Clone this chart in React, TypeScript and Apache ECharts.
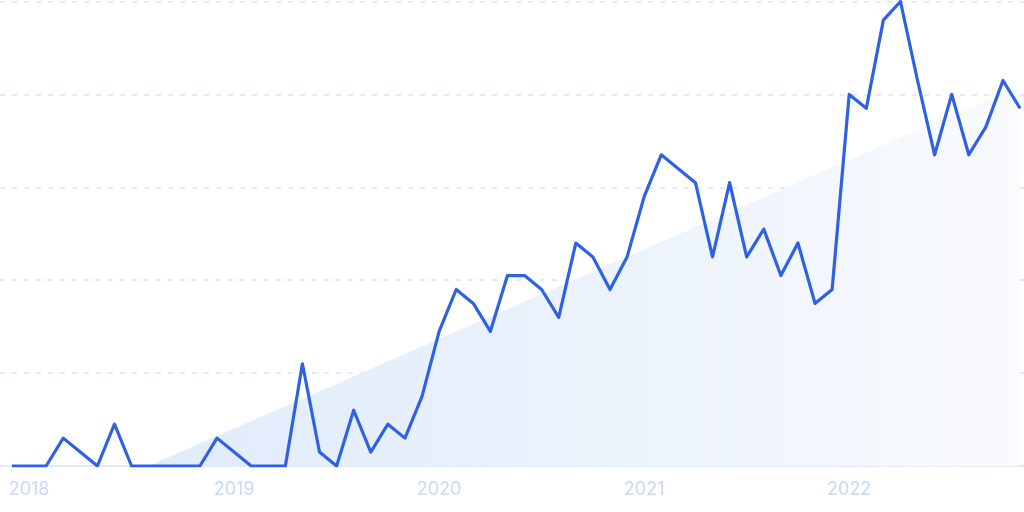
import React, { useEffect, useRef } from "react";
import * as echarts from "echarts";

const months: string[] = [
  "2017-12",
  "2018-01", "2018-02", "2018-03", "2018-04", "2018-05", "2018-06", "2018-07", "2018-08", "2018-09", "2018-10", "2018-11", "2018-12",
  "2019-01", "2019-02", "2019-03", "2019-04", "2019-05", "2019-06", "2019-07", "2019-08", "2019-09", "2019-10", "2019-11", "2019-12",
  "2020-01", "2020-02", "2020-03", "2020-04", "2020-05", "2020-06", "2020-07", "2020-08", "2020-09", "2020-10", "2020-11", "2020-12",
  "2021-01", "2021-02", "2021-03", "2021-04", "2021-05", "2021-06", "2021-07", "2021-08", "2021-09", "2021-10", "2021-11", "2021-12",
  "2022-01", "2022-02", "2022-03", "2022-04", "2022-05", "2022-06", "2022-07", "2022-08", "2022-09", "2022-10", "2022-11",
];

const interest: number[] = [
  0,
  0, 0, 6, 3, 0, 9, 0, 0, 0, 0, 0, 6,
  3, 0, 0, 0, 22, 3, 0, 12, 3, 9, 6, 15,
  29, 38, 35, 29, 41, 41, 38, 32, 48, 45, 38, 45,
  58, 67, 64, 61, 45, 61, 45, 51, 41, 48, 35, 38,
  80, 77, 96, 100, 83, 67, 80, 67, 73, 83, 77,
];

// trend line endpoints: [month index, value]
const trendStart: [number, number] = [8, 0];
const trendEnd: [number, number] = [59, 82];

const yearLabelIndices: number[] = [1, 13, 25, 37, 49];

export default function App() {
  const ref = useRef<HTMLDivElement>(null);

  useEffect(() => {
    if (!ref.current) return;
    const chart = echarts.init(ref.current, null, { renderer: "svg" });
    const lineData = interest.map((v, i) => [i, v]);
    chart.setOption({
      animation: false,
      grid: { left: 0, right: 0, top: 1.5, bottom: 46 },
      xAxis: {
        type: "value",
        min: -0.7,
        max: 59.23,
        axisLine: { show: true, lineStyle: { color: "#dde6f8", width: 1.5 } },
        axisTick: { show: false },
        splitLine: { show: false },
        axisLabel: {
          customValues: yearLabelIndices,
          formatter: (v: number) => (months[Math.round(v)] || "").slice(0, 4),
          color: "#cbd7f3",
          fontSize: 18,
          fontFamily: "Inter, 'Noto Sans', sans-serif",
          margin: 13,
        },
      },
      yAxis: {
        type: "value",
        min: 0,
        max: 100,
        interval: 20,
        axisLine: { show: false },
        axisTick: { show: false },
        axisLabel: { show: false },
        splitLine: {
          show: true,
          lineStyle: { color: "#d6e4fb", type: [5, 7], width: 1.5 },
        },
      },
      series: [
        {
          type: "line",
          data: [trendStart, trendEnd],
          symbol: "none",
          lineStyle: { width: 0 },
          z: 1,
          areaStyle: {
            color: new echarts.graphic.LinearGradient(0, 0, 1, 0, [
              { offset: 0, color: "#e0ebfb" },
              { offset: 0.5, color: "#ebf2fc" },
              { offset: 1, color: "#f9fbfe" },
            ]),
            opacity: 1,
          },
          silent: true,
        },
        {
          type: "line",
          data: lineData,
          symbol: "none",
          z: 3,
          lineStyle: { color: "#2f62e2", width: 3.2, join: "round" },
        },
      ],
    });
    return () => chart.dispose();
  }, []);

  return (
    <div
      ref={ref}
      style={{ position: "fixed", left: 0, top: 0, width: 1024, height: 512 }}
    />
  );
}
